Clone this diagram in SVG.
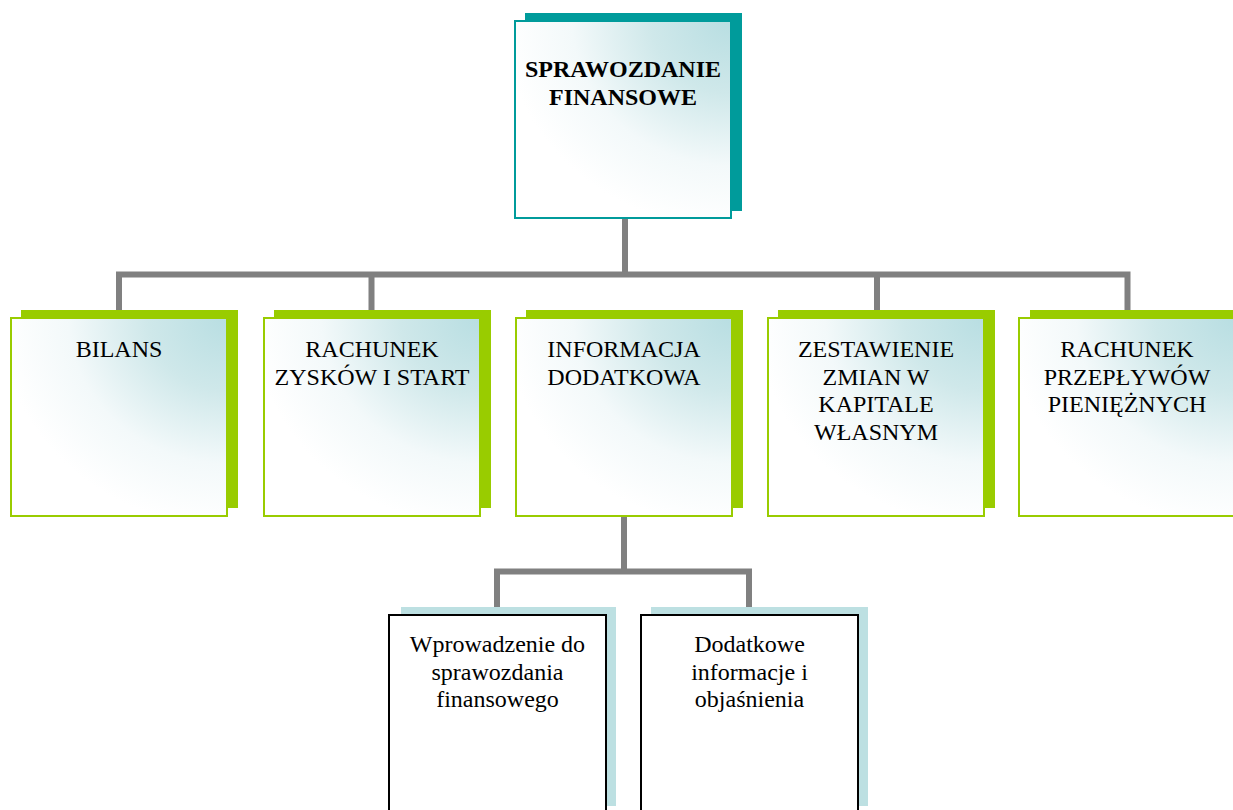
<svg xmlns="http://www.w3.org/2000/svg" width="1233" height="810" viewBox="0 0 1233 810">
<defs>
<radialGradient id="g" cx="1" cy="0" r="1.05" gradientUnits="objectBoundingBox">
<stop offset="0" stop-color="#b8dee2"/>
<stop offset="0.35" stop-color="#cfe8ea"/>
<stop offset="0.7" stop-color="#f3f9fa"/>
<stop offset="1" stop-color="#ffffff"/>
</radialGradient>
<style>
.conn{fill:none;stroke:#808080;stroke-width:6}
.t{font-family:"Liberation Serif","Times New Roman",serif;font-size:24px;fill:#000;text-anchor:middle}
.b{font-weight:bold}
.shT{fill:#009b9b}
.shG{fill:#99cc00}
.shB{fill:#bde0e2}
.mT{fill:url(#g);stroke:#009b9b;stroke-width:2}
.mG{fill:url(#g);stroke:#99cc00;stroke-width:2}
.mB{fill:#ffffff;stroke:#000;stroke-width:2}
</style>
</defs>
<g id="connectors">
<path class="conn" d="M625,219 V274.5 M119,310 V274.5 H1127.5 V310 M371.5,274.5 V310 M877,274.5 V310"/>
<path class="conn" d="M624,517 V571.5 M497,607 V571.5 H749 V607"/>
</g>
<g id="n-sprawozdanie">
<rect class="shT" x="525" y="13" width="217" height="198"/>
<rect class="mT" x="515" y="21" width="216" height="197"/>
<text class="t b" x="623" y="76.5">SPRAWOZDANIE</text>
<text class="t b" x="623" y="104.5">FINANSOWE</text>
</g>
<g id="n-bilans">
<rect class="shG" x="21" y="310" width="217" height="198"/>
<rect class="mG" x="11" y="318" width="216" height="198"/>
<text class="t" x="119" y="357">BILANS</text>
</g>
<g id="n-rachunek-zyskow">
<rect class="shG" x="274" y="310" width="217" height="198"/>
<rect class="mG" x="264" y="318" width="216" height="198"/>
<text class="t" x="372" y="357">RACHUNEK</text>
<text class="t" x="372" y="384.6">ZYSKÓW I START</text>
</g>
<g id="n-informacja">
<rect class="shG" x="526" y="310" width="217" height="198"/>
<rect class="mG" x="516" y="318" width="216" height="198"/>
<text class="t" x="624" y="357">INFORMACJA</text>
<text class="t" x="624" y="384.6">DODATKOWA</text>
</g>
<g id="n-zestawienie">
<rect class="shG" x="778" y="310" width="217" height="198"/>
<rect class="mG" x="768" y="318" width="216" height="198"/>
<text class="t" x="876" y="357">ZESTAWIENIE</text>
<text class="t" x="876" y="384.6">ZMIAN W</text>
<text class="t" x="876" y="412.2">KAPITALE</text>
<text class="t" x="876" y="439.8">WŁASNYM</text>
</g>
<g id="n-przeplywy">
<rect class="shG" x="1030" y="310" width="217" height="198"/>
<rect class="mG" x="1019" y="318" width="216" height="198"/>
<text class="t" x="1127" y="357">RACHUNEK</text>
<text class="t" x="1127" y="384.6">PRZEPŁYWÓW</text>
<text class="t" x="1127" y="412.2">PIENIĘŻNYCH</text>
</g>
<g id="n-wprowadzenie">
<rect class="shB" x="401" y="607" width="215" height="199"/>
<rect class="mB" x="389" y="615" width="217" height="200"/>
<text class="t" x="497.5" y="652">Wprowadzenie do</text>
<text class="t" x="497.5" y="679.6">sprawozdania</text>
<text class="t" x="497.5" y="707.2">finansowego</text>
</g>
<g id="n-dodatkowe">
<rect class="shB" x="651" y="607" width="217" height="199"/>
<rect class="mB" x="641" y="615" width="217" height="200"/>
<text class="t" x="749.5" y="652">Dodatkowe</text>
<text class="t" x="749.5" y="679.6">informacje i</text>
<text class="t" x="749.5" y="707.2">objaśnienia</text>
</g>
</svg>
